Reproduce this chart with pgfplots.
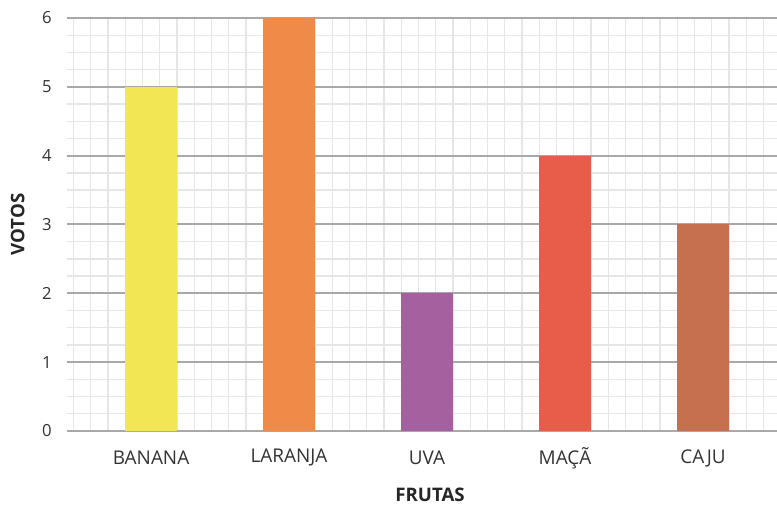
\documentclass[border=0pt]{standalone}
\usepackage{pgfplots}
\pgfplotsset{compat=1.18}
\usepackage{fontspec}
\setmainfont{Open Sans}

\definecolor{cBanana}{HTML}{F3E655}
\definecolor{cLaranja}{HTML}{EF8A49}
\definecolor{cUva}{HTML}{A5609F}
\definecolor{cMaca}{HTML}{E85D49}
\definecolor{cCaju}{HTML}{C6704F}
\definecolor{gMajor}{HTML}{A8A8A8}
\definecolor{gMinor}{HTML}{E6E6E6}
\definecolor{txt}{HTML}{333333}

\begin{document}
\begin{tikzpicture}
\begin{axis}[name=ax,
  scale only axis,
  width=532.5pt, height=309.75pt,
  xmin=-0.609, xmax=4.536,
  ymin=0, ymax=6,
  clip=false,
  axis line style={draw=none},
  major tick length=0pt, minor tick length=0pt,
  xtick={0,1,2,3,4},
  xticklabels={BANANA,LARANJA,UVA,MAÇÃ,CAJU},
  minor xtick={-0.5625,-0.4375,...,4.5},
  ytick={0,1,2,3,4,5,6},
  minor ytick={0.25,0.5,...,5.75},
  xmajorgrids=false, xminorgrids=true,
  ymajorgrids=true, yminorgrids=true,
  major grid style={gMajor, line width=1.5pt},
  minor grid style={gMinor, line width=1pt},
  /pgf/number format/assume math mode=true,
  xticklabel style={font=\fontsize{14.2}{16}\selectfont, text=txt, anchor=center, yshift=-20.25pt},
  yticklabel style={font=\fontsize{12.5}{14}\selectfont, text=txt, anchor=center, xshift=-15pt},
  xlabel={FRUTAS},
  ylabel={VOTOS},
  every axis x label/.style={font=\bfseries\fontsize{14}{16}\selectfont, text=black!85, inner sep=0pt,
    at={(axis description cs:0.5,0)}, anchor=center, yshift=-48pt, xshift=6pt},
  every axis y label/.style={font=\bfseries\fontsize{14}{16}\selectfont, text=black!85, inner sep=0pt,
    at={(axis description cs:0,0.5)}, anchor=center, rotate=90, yshift=37pt},
  bar width=0.375,
]
\addplot[ybar, bar shift=0pt, fill=cBanana, draw=none] coordinates {(0,5)};
\addplot[ybar, bar shift=0pt, fill=cLaranja, draw=none] coordinates {(1,6)};
\addplot[ybar, bar shift=0pt, fill=cUva, draw=none] coordinates {(2,2)};
\addplot[ybar, bar shift=0pt, fill=cMaca, draw=none] coordinates {(3,4)};
\addplot[ybar, bar shift=0pt, fill=cCaju, draw=none] coordinates {(4,3)};
\end{axis}
\pgfresetboundingbox
\path[use as bounding box] ([xshift=-50.25pt,yshift=-56.25pt]ax.south west) rectangle ([yshift=13.5pt]ax.north east);
\end{tikzpicture}
\end{document}
